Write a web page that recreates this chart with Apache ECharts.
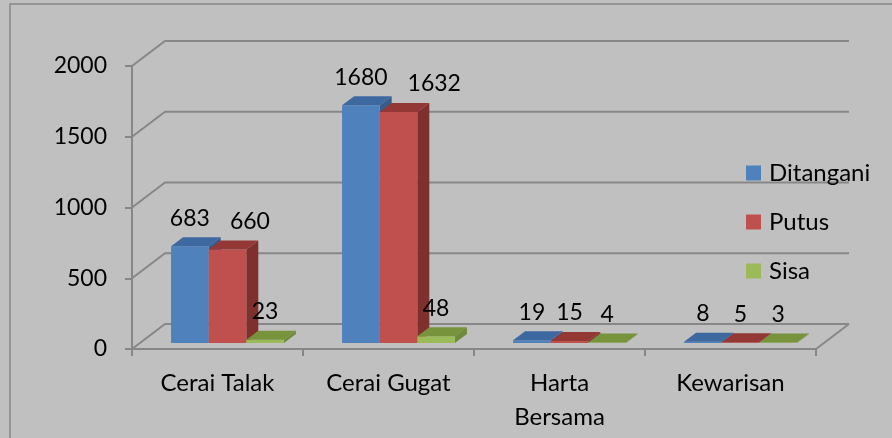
<!DOCTYPE html>
<html><head><meta charset="utf-8">
<script src="https://cdn.jsdelivr.net/npm/echarts@6/dist/echarts.min.js"></script>
<style>html,body{margin:0;padding:0;background:#c0c0c0;}#chart{width:892px;height:438px;}</style>
</head><body><div id="chart"></div>
<script>
// ---- data ----
const categories = ['Cerai Talak', 'Cerai Gugat', 'Harta\nBersama', 'Kewarisan'];
const seriesNames = ['Ditangani', 'Putus', 'Sisa'];
const ditangani = [683, 1680, 19, 8];
const putus = [660, 1632, 15, 5];
const sisa = [23, 48, 4, 3];
const yTicks = [0, 500, 1000, 1500, 2000];

// ---- styling ----
const FONT = 'Lato';
const FS = 23;       // numbers
const FS_TXT = 24;   // words
const GRID_COLOR = '#878787';
const faces = [
  { front: '#4f81bd', side: '#385d8a', top: '#3d68a0' },
  { front: '#c0504d', side: '#7e302e', top: '#943836' },
  { front: '#9bbb59', side: '#6f8a3a', top: '#77933c' }
];
const WALL = [33, -25];     // back wall offset from front plane
const PLANE = [8, -6];      // bar front-face plane offset from front plane
const DEPTH = [12, -9];     // bar depth
const BAR_FRAC = 0.22;

const allValues = [ditangani, putus, sisa];

const mctx = document.createElement('canvas').getContext('2d');
mctx.font = FS + 'px ' + FONT;
function textW(t) { return mctx.measureText(String(t)).width; }

function barGeom(api, cat, s, val) {
  const base = api.coord([cat, 0]);
  const top = api.coord([cat, val]);
  const band = api.size([1, 0])[0];
  const bw = band * BAR_FRAC;
  const x = base[0] - 1.5 * bw + 2 + s * bw + PLANE[0];
  return { x: x, bw: bw, yb: base[1] + PLANE[1], yt: top[1] + PLANE[1] };
}

function labelPositions(api, cat) {
  const out = [];
  for (let s = 0; s < allValues.length; s++) {
    const v = allValues[s][cat];
    const g = barGeom(api, cat, s, v);
    const w = textW(v);
    let cx = g.x + g.bw / 2;
    const cy = g.yt + DEPTH[1] - 19;
    if (s > 0) {
      const p = out[s - 1];
      const vOverlap = Math.abs(p.cy - cy) < FS;
      if (vOverlap && (cx - w / 2) < (p.cx + p.w / 2 + 4)) {
        cx = p.cx + p.w / 2 + 20 + w / 2;
      }
    }
    out.push({ cx: cx, cy: cy, w: w });
  }
  return out;
}

function makeBarSeries(s) {
  return {
    type: 'custom',
    name: seriesNames[s],
    coordinateSystem: 'cartesian2d',
    itemStyle: { color: faces[s].front },
    z: 3,
    data: allValues[s].map((v, i) => [i, v]),
    renderItem: function (params, api) {
      const cat = api.value(0), val = api.value(1);
      const g = barGeom(api, cat, s, val);
      const f = faces[s];
      const x = g.x, bw = g.bw, yt = g.yt, yb = g.yb;
      const dx = DEPTH[0], dy = DEPTH[1];
      const lp = labelPositions(api, cat)[s];
      return {
        type: 'group',
        children: [
          { type: 'polygon', shape: { points: [[x + bw, yt], [x + bw + dx, yt + dy], [x + bw + dx, yb + dy], [x + bw, yb]] }, style: { fill: f.side } },
          { type: 'rect', shape: { x: x, y: yt, width: bw, height: Math.max(yb - yt, 0.5) }, style: { fill: f.front } },
          { type: 'polygon', shape: { points: [[x, yt], [x + dx, yt + dy], [x + bw + dx, yt + dy], [x + bw, yt]] }, style: { fill: f.top } },
          { type: 'text', z2: 10, style: { text: String(val), x: lp.cx, y: lp.cy, align: 'center', verticalAlign: 'middle', font: FS + 'px ' + FONT, fill: '#000' } }
        ]
      };
    }
  };
}

const frameSeries = {
  type: 'custom',
  coordinateSystem: 'cartesian2d',
  silent: true,
  z: 1,
  data: yTicks.map(v => [0, v]),
  renderItem: function (params, api) {
    const cs = params.coordSys;
    const x0 = cs.x, x1 = cs.x + cs.width;
    const y = api.coord([0, api.value(1)])[1];
    const children = [
      { type: 'polyline', shape: { points: [[x0, y], [x0 + WALL[0], y + WALL[1]], [x1 + WALL[0], y + WALL[1]]] }, style: { stroke: GRID_COLOR, lineWidth: 2, fill: null } }
    ];
    if (api.value(1) === 0) {
      children.push({ type: 'line', shape: { x1: x1, y1: y, x2: x1 + WALL[0], y2: y + WALL[1] }, style: { stroke: GRID_COLOR, lineWidth: 2 } });
    }
    return { type: 'group', children: children };
  }
};

const chart = echarts.init(document.getElementById('chart'), null, { renderer: 'canvas' });
chart.setOption({
  animation: false,
  backgroundColor: '#c0c0c0',
  graphic: [{ type: 'rect', shape: { x: 10, y: 4, width: 900, height: 460 }, style: { fill: null, stroke: GRID_COLOR, lineWidth: 1.5 }, z: 0 }],
  grid: { left: 132, right: 76, top: 66, bottom: 89, containLabel: false },
  legend: {
    orient: 'vertical', left: 746, top: 161, padding: 0,
    itemWidth: 15, itemHeight: 15, itemGap: 25,
    icon: 'rect',
    data: seriesNames,
    textStyle: { fontFamily: FONT, fontSize: FS_TXT, color: '#000', lineHeight: 24, padding: [0, 0, 0, 3] }
  },
  xAxis: {
    type: 'category', data: categories, boundaryGap: true,
    axisLine: { show: true, lineStyle: { color: GRID_COLOR, width: 2 } },
    axisTick: { show: true, length: 7, lineStyle: { color: GRID_COLOR, width: 2 } },
    axisLabel: { fontFamily: FONT, fontSize: FS_TXT, color: '#000', lineHeight: 34, margin: 17, interval: 0 },
    splitLine: { show: false }
  },
  yAxis: {
    type: 'value', min: 0, max: 2000, interval: 500,
    axisLine: { show: true, lineStyle: { color: GRID_COLOR, width: 2 } },
    axisTick: { show: true, length: 7, lineStyle: { color: GRID_COLOR, width: 2 } },
    axisLabel: { fontFamily: FONT, fontSize: FS, color: '#000', margin: 25, formatter: v => String(v) },
    splitLine: { show: false }
  },
  series: [frameSeries, makeBarSeries(0), makeBarSeries(1), makeBarSeries(2)]
});
</script></body></html>
